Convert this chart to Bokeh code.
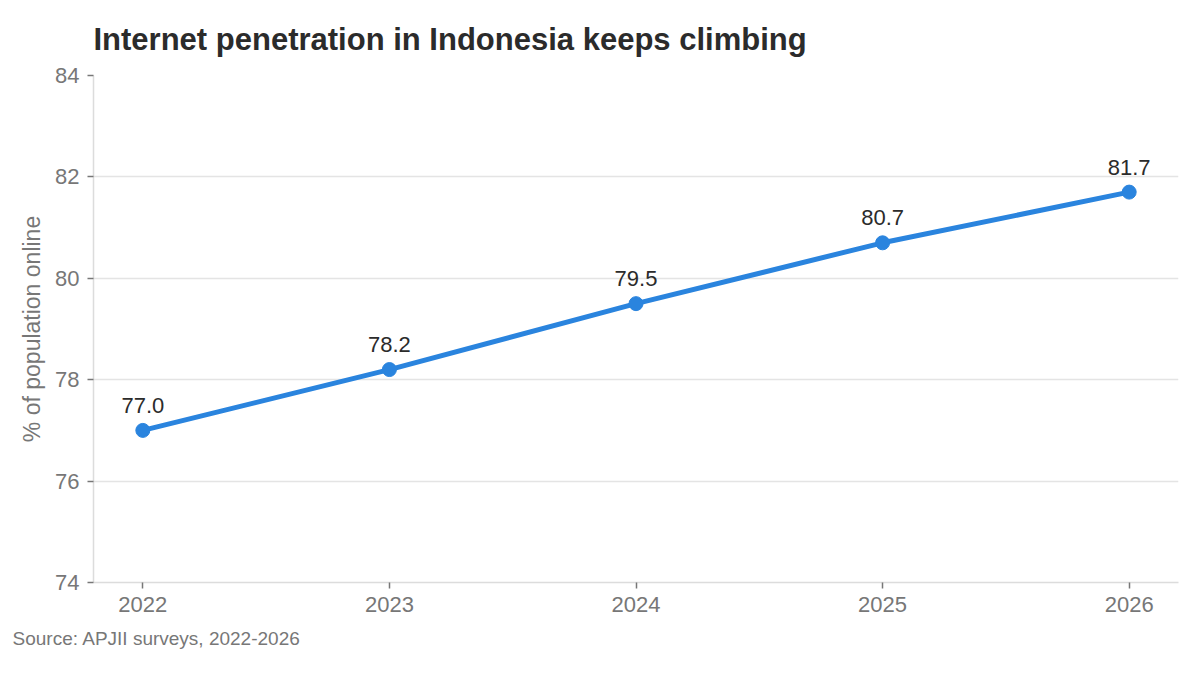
from bokeh.plotting import figure
from bokeh.models import ColumnDataSource, Range1d, FixedTicker, Title
from bokeh.embed import file_html
from bokeh.resources import INLINE
from bokeh.core.properties import value

years = [2022, 2023, 2024, 2025, 2026]
penetration = [77.0, 78.2, 79.5, 80.7, 81.7]
labels = [f"{v:.1f}" for v in penetration]
y_ticks = [74, 76, 78, 80, 82, 84]

FONT = "Liberation Sans"
BLUE = "#2a84de"
GRAY = "#777777"

src = ColumnDataSource(dict(x=years, y=penetration, lab=labels))

p = figure(width=1184, height=659, output_backend="svg", toolbar_location=None,
           x_range=Range1d(2021.8, 2026.2), y_range=Range1d(74, 84),
           min_border_left=93, min_border_right=6, min_border_top=17, min_border_bottom=77)

p.title.text = "Internet penetration in Indonesia keeps climbing"
p.title.text_font = FONT
p.title.text_font_size = "31px"
p.title.text_font_style = "bold"
p.title.text_color = "#2b2b2b"
p.title.align = "left"
p.title.offset = 0
p.title.standoff = 38

p.outline_line_color = None
p.background_fill_color = "white"
p.border_fill_color = "white"

p.xgrid.grid_line_color = None
p.ygrid.grid_line_color = "#e4e4e4"
p.ygrid.grid_line_width = 1.5

for ax in (p.xaxis, p.yaxis):
    ax.axis_line_color = "#dcdcdc"
    ax.axis_line_width = 1.5
    ax.major_tick_line_color = GRAY
    ax.major_tick_line_width = 1.5
    ax.major_tick_out = 6
    ax.major_tick_in = 0
    ax.minor_tick_line_color = None
    ax.major_label_text_font = FONT
    ax.major_label_text_font_size = "22px"
    ax.major_label_text_color = GRAY

p.xaxis.ticker = FixedTicker(ticks=years)
p.xaxis.major_label_standoff = 8
p.yaxis.ticker = FixedTicker(ticks=y_ticks)
p.yaxis.major_label_standoff = 8
p.yaxis.axis_label = "% of population online"
p.yaxis.axis_label_text_font = FONT
p.yaxis.axis_label_text_font_size = "23px"
p.yaxis.axis_label_text_font_style = "normal"
p.yaxis.axis_label_text_color = GRAY
p.yaxis.axis_label_standoff = 7

p.line("x", "y", source=src, line_color=BLUE, line_width=5)
p.scatter("x", "y", source=src, size=14, fill_color=BLUE, line_color=BLUE)
p.text("x", "y", text="lab", source=src, text_font=value(FONT), text_font_size="22px",
       text_color="#2b2b2b", text_align="center", text_baseline="middle", y_offset=-25)

src_note = Title(text="Source: APJII surveys, 2022-2026", text_font=FONT, text_font_size="19px",
                 text_font_style="normal", text_color=GRAY, align="left", offset=-81, standoff=22)
p.add_layout(src_note, "below")

open("out.html", "w").write(file_html(p, INLINE))
